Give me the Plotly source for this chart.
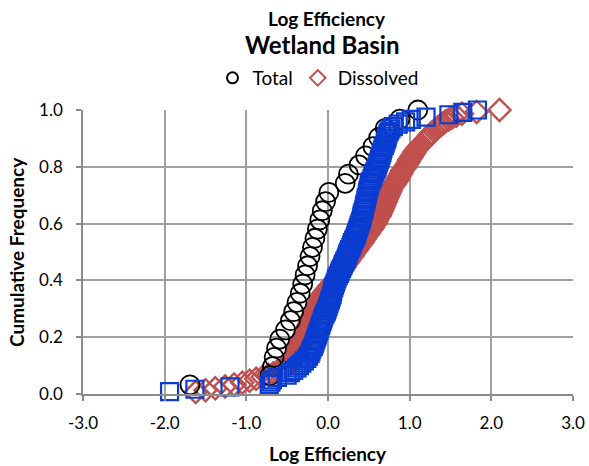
import plotly.graph_objects as go

# ---- data ----
total_x = [-1.69, -0.71, -0.68, -0.66, -0.63, -0.59, -0.52, -0.46, -0.42, -0.38,
           -0.34, -0.31, -0.28, -0.25, -0.22, -0.19, -0.16, -0.13, -0.10, -0.07,
           -0.03, 0.01, 0.21, 0.25, 0.38, 0.46, 0.55, 0.62, 0.70, 0.88, 1.10]
total_y = [(i + 1) / len(total_x) for i in range(len(total_x))]

dissolved_x = [-1.62, -1.50, -1.38, -1.26, -1.15, -1.05, -0.96, -0.88, -0.80, -0.73,
               -0.67, -0.62, -0.57, -0.53, -0.49, -0.46, -0.44, -0.42, -0.41, -0.40,
               -0.39, -0.38, -0.37, -0.36, -0.35, -0.34, -0.33, -0.32, -0.315, -0.30,
               -0.29, -0.28, -0.27, -0.26, -0.25, -0.24, -0.23, -0.22, -0.21, -0.20,
               -0.19, -0.18, -0.165, -0.15, -0.14, -0.13, -0.12, -0.11, -0.10, -0.09,
               -0.08, -0.07, -0.055, -0.04, -0.02, 0.00, 0.02, 0.04, 0.06, 0.08,
               0.10, 0.115, 0.13, 0.15, 0.17, 0.18, 0.20, 0.21, 0.23, 0.25,
               0.26, 0.28, 0.30, 0.31, 0.33, 0.35, 0.365, 0.38, 0.40, 0.42,
               0.43, 0.45, 0.46, 0.48, 0.50, 0.51, 0.53, 0.55, 0.56, 0.58,
               0.59, 0.60, 0.61, 0.63, 0.64, 0.65, 0.66, 0.67, 0.68, 0.69,
               0.70, 0.71, 0.72, 0.73, 0.74, 0.75, 0.76, 0.77, 0.78, 0.80,
               0.82, 0.83, 0.85, 0.86, 0.87, 0.89, 0.90, 0.91, 0.93, 0.95,
               0.96, 0.98, 0.99, 1.00, 1.02, 1.03, 1.05, 1.06, 1.08, 1.10,
               1.12, 1.14, 1.17, 1.19, 1.21, 1.23, 1.25, 1.27, 1.30, 1.33,
               1.35, 1.38, 1.41, 1.44, 1.48, 1.52, 1.57, 1.64, 1.82, 2.10]
dissolved_y = [(i + 1) / len(dissolved_x) for i in range(len(dissolved_x))]

particulate_x = [-1.94, -1.63, -1.20, -0.72, -0.70, -0.68, -0.62, -0.50, -0.46, -0.42,
                 -0.38, -0.35, -0.32, -0.29, -0.26, -0.24, -0.22, -0.21, -0.20, -0.18,
                 -0.17, -0.16, -0.15, -0.14, -0.13, -0.12, -0.11, -0.10, -0.09, -0.08,
                 -0.07, -0.06, -0.05, -0.035, -0.02, -0.01, 0.00, 0.01, 0.02, 0.03,
                 0.04, 0.05, 0.055, 0.06, 0.07, 0.08, 0.09, 0.10, 0.11, 0.125,
                 0.14, 0.15, 0.165, 0.18, 0.19, 0.205, 0.22, 0.23, 0.24, 0.25,
                 0.265, 0.28, 0.29, 0.30, 0.315, 0.33, 0.34, 0.35, 0.36, 0.37,
                 0.38, 0.39, 0.40, 0.41, 0.415, 0.42, 0.43, 0.44, 0.445, 0.45,
                 0.46, 0.465, 0.47, 0.48, 0.485, 0.49, 0.50, 0.505, 0.51, 0.525,
                 0.54, 0.55, 0.56, 0.575, 0.59, 0.60, 0.61, 0.62, 0.63, 0.64,
                 0.65, 0.66, 0.665, 0.675, 0.69, 0.70, 0.71, 0.72, 0.725, 0.735,
                 0.75, 0.77, 0.80, 0.86, 0.95, 1.02, 1.20, 1.48, 1.65, 1.83]
particulate_y = [(i + 1) / len(particulate_x) for i in range(len(particulate_x))]

x_ticks = [-3, -2, -1, 0, 1, 2, 3]
x_tick_labels = ["-3.0", "-2.0", "-1.0", "0.0", "1.0", "2.0", "3.0"]
y_ticks = [0, 0.2, 0.4, 0.6, 0.8, 1.0]
y_tick_labels = ["0.0", "0.2", "0.4", "0.6", "0.8", "1.0"]

FONT = "Lato, 'Open Sans', sans-serif"
BLACK = "#000000"
RED = "#C0504D"
BLUE = "#0A3CD2"
GRID = "#A0A0A0"
AXIS = "#8C8C8C"

W, H = 589, 466
ML, MR, MT, MB = 83, 16, 110, 72
PW, PH = W - ML - MR, H - MT - MB

fig = go.Figure()

fig.add_trace(go.Scatter(
    x=dissolved_x, y=dissolved_y, mode="markers", name="Dissolved", showlegend=False,
    marker=dict(symbol="diamond-open", size=17, color=RED, line=dict(width=2.4, color=RED)),
    cliponaxis=False))
fig.add_trace(go.Scatter(
    x=total_x, y=total_y, mode="markers", name="Total", showlegend=False,
    marker=dict(symbol="circle-open", size=19, color=BLACK, line=dict(width=1.8, color=BLACK)),
    cliponaxis=False))
fig.add_trace(go.Scatter(
    x=particulate_x, y=particulate_y, mode="markers", name="Particulate", showlegend=False,
    marker=dict(symbol="square-open", size=17, color=BLUE, line=dict(width=2.2, color=BLUE)),
    cliponaxis=False))

# legend entries
fig.add_trace(go.Scatter(x=[None], y=[None], mode="markers", name="Total",
                         marker=dict(symbol="circle-open", size=11, color=BLACK,
                                     line=dict(width=2, color=BLACK))))
fig.add_trace(go.Scatter(x=[None], y=[None], mode="markers", name="Dissolved",
                         marker=dict(symbol="diamond-open", size=12, color=RED,
                                     line=dict(width=2, color=RED))))

fig.update_layout(
    width=W, height=H,
    margin=dict(l=ML, r=MR, t=MT, b=MB, autoexpand=False),
    paper_bgcolor="white", plot_bgcolor="white",
    font=dict(family=FONT, color="#000000", size=17),
    showlegend=True,
    legend=dict(orientation="h", x=(318 - ML) / PW, xanchor="center",
                y=1 - 78 / H, yanchor="middle", yref="container",
                font=dict(size=19, family=FONT),
                itemwidth=30, tracegroupgap=0, bgcolor="rgba(0,0,0,0)"),
    annotations=[
        dict(text="<b>Log Efficiency</b>", xref="paper", yref="paper",
             x=(327 - ML) / PW, y=(H - MB - 18) / PH,
             xanchor="center", yanchor="middle", showarrow=False,
             font=dict(size=19, family=FONT)),
        dict(text="<b>Wetland Basin</b>", xref="paper", yref="paper",
             x=(322 - ML) / PW, y=(H - MB - 45) / PH,
             xanchor="center", yanchor="middle", showarrow=False,
             font=dict(size=24, family=FONT)),
        dict(text="<b>Log Efficiency</b>", xref="paper", yref="paper",
             x=(328 - ML) / PW, y=(PH - 453 + MT) / PH,
             xanchor="center", yanchor="middle", showarrow=False,
             font=dict(size=19, family=FONT)),
        dict(text="<b>Cumulative Frequency</b>", xref="paper", yref="paper",
             x=(16 - ML) / PW, y=(PH - 252 + MT) / PH, textangle=-90,
             xanchor="center", yanchor="middle", showarrow=False,
             font=dict(size=19, family=FONT)),
    ],
    xaxis=dict(range=[-3, 3], tickvals=x_ticks, ticktext=x_tick_labels,
               showgrid=True, gridcolor=GRID, gridwidth=1.5,
               showline=True, linecolor=AXIS, linewidth=1.5,
               ticks="outside", ticklen=5, tickcolor=AXIS, tickwidth=1.5,
               zeroline=False, ticklabelstandoff=8),
    yaxis=dict(range=[0, 1], tickvals=y_ticks, ticktext=y_tick_labels,
               showgrid=True, gridcolor=GRID, gridwidth=1.5,
               showline=True, linecolor=AXIS, linewidth=1.5,
               ticks="outside", ticklen=5, tickcolor=AXIS, tickwidth=1.5,
               zeroline=False, ticklabelstandoff=10),
)

fig.write_html("out.html")
